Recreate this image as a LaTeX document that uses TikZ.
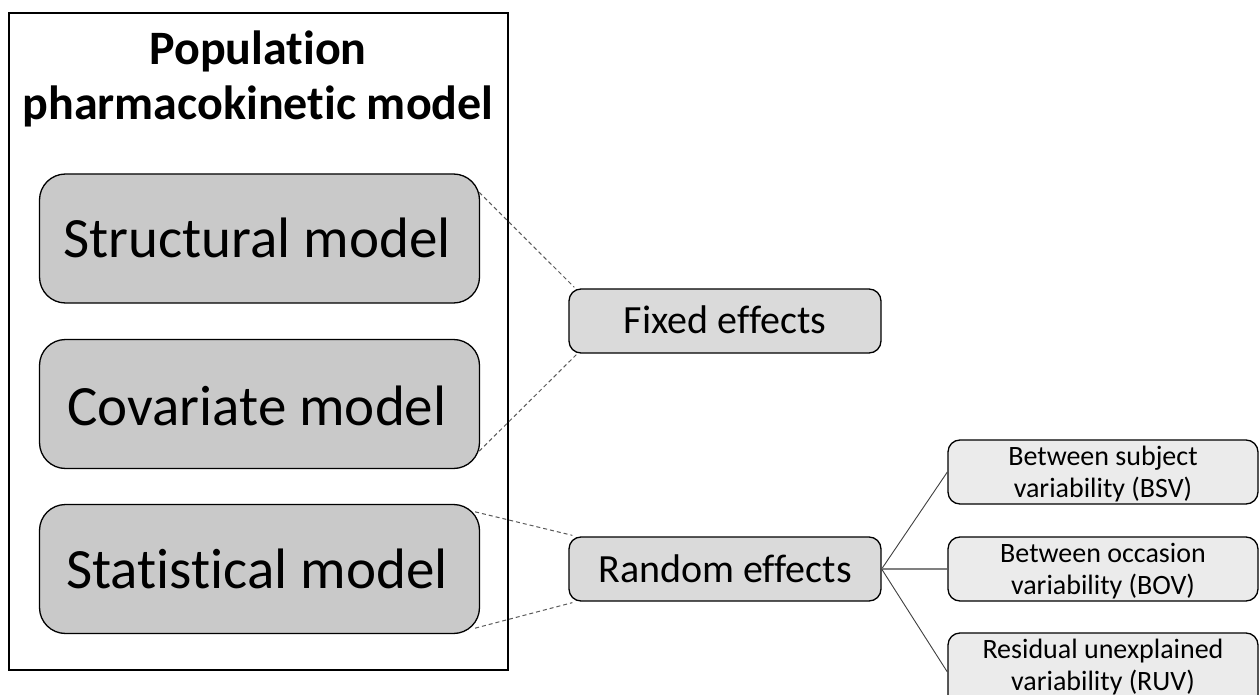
\documentclass[tikz,border=0pt]{standalone}
\usepackage{fontspec}
\setmainfont{Carlito}[Ligatures=NoCommon]
\usetikzlibrary{calc}
\definecolor{bigfill}{HTML}{C9C9C9}
\definecolor{midfill}{HTML}{DADADA}
\definecolor{lightfill}{HTML}{EBEBEB}
\definecolor{dashc}{HTML}{5A5A5A}
\begin{document}
\begin{tikzpicture}[x=1pt,y=-1pt,
  bigbox/.style={draw=black, line width=1.3pt, fill=bigfill, rounded corners=26pt,
    minimum width=440pt, minimum height=129pt, inner sep=0pt},
  bigtext/.style={anchor=base, inner sep=0pt, font=\fontsize{57}{66}\selectfont},
  midbox/.style={draw=black, line width=1.3pt, fill=midfill, rounded corners=12pt,
    minimum width=312pt, minimum height=64pt, inner sep=0pt},
  midtext/.style={anchor=base, inner sep=0pt, font=\fontsize{40}{46}\selectfont},
  smallbox/.style={draw=black, line width=1.3pt, fill=lightfill, rounded corners=12pt,
    minimum width=310pt, minimum height=64pt, inner sep=0pt},
  smalltext/.style={anchor=base, inner sep=0pt, font=\fontsize{28}{33}\selectfont},
  titletext/.style={anchor=base, inner sep=0pt, font=\fontsize{48}{55}\selectfont\bfseries},
  dashline/.style={draw=dashc, line width=1pt, dash pattern=on 4pt off 3pt},
  diagline/.style={draw=black!75, line width=0.9pt},
  midline/.style={draw=black!50, line width=1.6pt}]
\useasboundingbox (0,0) rectangle (1259,695);
\fill[white] (0,0) rectangle (1259,695);
% outer frame
\node[draw=black, line width=1.4pt, minimum width=499pt, minimum height=657pt, inner sep=0pt] (frame) at (258.5,341.5) {};
\node[titletext] (title1) at (258,65) {Population};
\node[titletext] (title2) at (258,120) {pharmacokinetic model};
% inner boxes
\node[bigbox] (str) at (259.5,238.5) {};
\node[bigtext] (strt) at (257,258) {Structural model};
\node[bigbox] (cov) at (259.5,404) {};
\node[bigtext] (covt) at (257,425) {Covariate model};
\node[bigbox] (sta) at (259.5,569) {};
\node[bigtext] (stat) at (257,588) {Statistical model};
% effects
\node[midbox] (fix) at (725,321) {};
\node[midtext] (fixt) at (725,334) {Fixed effects};
\node[midbox] (ran) at (725,569) {};
\node[midtext] (rant) at (725,582) {Random effects};
% variability boxes
\node[smallbox] (bsv) at (1103,472) {};
\node[smalltext] (bsva) at (1103,465) {Between subject};
\node[smalltext] (bsvb) at (1103,497) {variability (BSV)};
\node[smallbox] (bov) at (1103,569) {};
\node[smalltext] (bova) at (1103,562) {Between occasion};
\node[smalltext] (bovb) at (1103,594) {variability (BOV)};
\node[smallbox, minimum height=78pt] (ruv) at (1103,672) {};
\node[smalltext] (ruva) at (1103,658) {Residual unexplained};
\node[smalltext] (ruvb) at (1103,690) {variability (RUV)};
% dashed connectors
\draw[dashline] ([shift={(-1,19)}]str.north east) -- ([shift={(6,-1)}]fix.north west);
\draw[dashline] ([shift={(-1,-18)}]cov.south east) -- ([shift={(8,1)}]fix.south west);
\draw[dashline] ([shift={(-5,8)}]sta.north east) -- ([shift={(4,-1)}]ran.north west);
\draw[dashline] ([shift={(-5,-6)}]sta.south east) -- ([shift={(4,1)}]ran.south west);
% solid connectors
\draw[diagline] (ran.east) -- (bsv.west);
\draw[midline] (ran.east) -- (bov.west);
\draw[diagline] (ran.east) -- (ruv.west);
\end{tikzpicture}
\end{document}
